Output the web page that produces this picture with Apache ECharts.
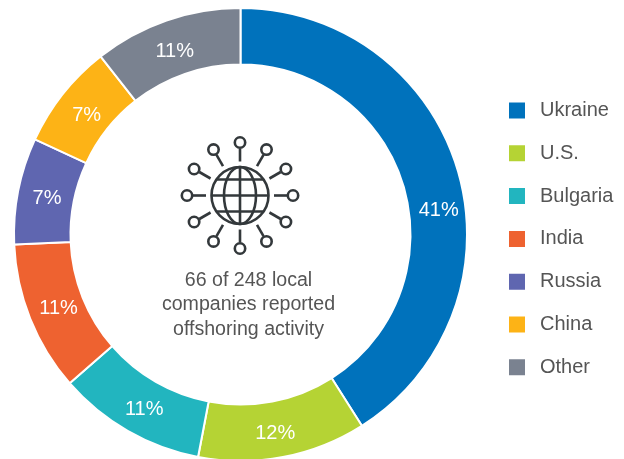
<!DOCTYPE html>
<html>
<head>
<meta charset="utf-8">
<style>html,body{margin:0;padding:0;background:#fff}#c{width:624px;height:459px}</style>
<script src="https://cdn.jsdelivr.net/npm/echarts@6/dist/echarts.min.js"></script>
</head>
<body>
<div id="c"></div>
<script>
const categories = ['Ukraine', 'U.S.', 'Bulgaria', 'India', 'Russia', 'China', 'Other'];
const shares = [41, 12, 10.6, 10.7, 7.6, 7.5, 10.6];
const shareLabels = ['41%', '12%', '11%', '11%', '7%', '7%', '11%'];
const colors = ['#0072BC', '#B5D334', '#22B5BF', '#EE6230', '#5F66B0', '#FDB316', '#7A8290'];
const captionLines = ['66 of 248 local', 'companies reported', 'offshoring activity'];

const FONT = '"Liberation Sans", Arial, sans-serif';
const INK = '#33383b';
const ICON = { x: 240, y: 195.5, globe: 28.5, spokeFrom: 34, spokeTo: 47, node: 53, nodeR: 5.2 };
const labelNudgeX = [5, -3, 4, 5, 4, 4, 0];
const labelNudgeY = [32, 1, 0, -1, 3, 6, 7];

const stroke = { stroke: INK, lineWidth: 2.6, fill: 'none' };
const icon = [];
for (let i = 0; i < 12; i++) {
  const a = i * Math.PI / 6, s = Math.sin(a), c = Math.cos(a);
  icon.push({ type: 'line', silent: true, style: stroke,
    shape: { x1: ICON.x + s * ICON.spokeFrom, y1: ICON.y - c * ICON.spokeFrom,
             x2: ICON.x + s * ICON.spokeTo, y2: ICON.y - c * ICON.spokeTo } });
  icon.push({ type: 'circle', silent: true, style: { stroke: INK, lineWidth: 2.6, fill: '#fff' },
    shape: { cx: ICON.x + s * ICON.node, cy: ICON.y - c * ICON.node, r: ICON.nodeR } });
}
icon.push({ type: 'circle', silent: true, style: stroke, shape: { cx: ICON.x, cy: ICON.y, r: ICON.globe } });
icon.push({ type: 'ellipse', silent: true, style: stroke, shape: { cx: ICON.x, cy: ICON.y, rx: 16, ry: ICON.globe } });
icon.push({ type: 'line', silent: true, style: stroke, shape: { x1: ICON.x, y1: ICON.y - ICON.globe, x2: ICON.x, y2: ICON.y + ICON.globe } });
icon.push({ type: 'line', silent: true, style: stroke, shape: { x1: ICON.x - ICON.globe, y1: ICON.y, x2: ICON.x + ICON.globe, y2: ICON.y } });
[-16, 16].forEach(d => {
  icon.push({ type: 'line', silent: true, style: stroke, shape: { x1: ICON.x - 23, y1: ICON.y + d, x2: ICON.x + 23, y2: ICON.y + d } });
});

const caption = captionLines.map((t, i) => ({
  type: 'text', silent: true, x: 248.5, y: 280.5 + i * 24.5,
  style: { text: t, fill: '#555', font: '19.6px ' + FONT, align: 'center', verticalAlign: 'middle' }
}));

const chart = echarts.init(document.getElementById('c'), null, { renderer: 'canvas' });
chart.setOption({
  backgroundColor: '#fff',
  animation: false,
  color: colors,
  legend: {
    orient: 'vertical', left: 507, top: 100.5, padding: 0,
    itemWidth: 18, itemHeight: 18, itemGap: 22.8, icon: 'rect',
    selectedMode: false,
    textStyle: { fontFamily: FONT, fontSize: 20, color: '#555', padding: [0, 0, 0, 9] },
    data: categories
  },
  series: [{
    type: 'pie',
    center: [240.5, 234.5],
    radius: [170, 226.5],
    startAngle: 90,
    clockwise: true,
    avoidLabelOverlap: false,
    silent: true,
    itemStyle: { borderColor: '#fff', borderWidth: 2 },
    label: { show: true, position: 'inside', formatter: p => shareLabels[p.dataIndex], color: '#fff', fontFamily: FONT, fontSize: 20 },
    labelLine: { show: false },
    labelLayout: p => ({ dx: labelNudgeX[p.dataIndex], dy: labelNudgeY[p.dataIndex] }),
    data: categories.map((name, i) => ({ name, value: shares[i] }))
  }],
  graphic: { elements: icon.concat(caption) }
});
</script>
</body>
</html>
